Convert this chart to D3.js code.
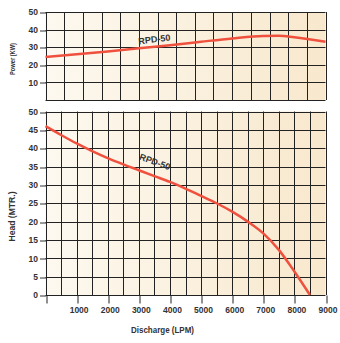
<!DOCTYPE html>
<html><head><meta charset="utf-8">
<script src="https://cdn.jsdelivr.net/npm/d3@7"></script>
<style>body{margin:0;background:#fff}svg{display:block}text{font-family:"Liberation Sans",Arial,sans-serif;fill:#333}</style>
</head><body><svg id="c" width="340" height="343"></svg>
<script>
const discharge = [0,1000,2000,3000,4000,5000,6000,7000,7500,8000,9000];
const power = [24.5,26,27.6,29.4,31.1,33.1,35.0,36.4,36.5,35.6,33.1];
const headQ = [0,500,1000,1500,2000,2500,3000,3500,4000,4500,5000,5500,6000,6500,7000,7500,8000,8500];
const head = [46,43.6,41.3,39.2,37.3,35.6,34,32.4,30.8,29,27,25,22.7,20,16.8,12.3,6.4,0];
const xTicks = [1000,2000,3000,4000,5000,6000,7000,8000,9000];
const powerTicks = [10,20,30,40,50];
const headTicks = [0,5,10,15,20,25,30,35,40,45,50];
const seriesName = "RPD-50";

const svg = d3.select("#c");
const defs = svg.append("defs");
const g = defs.append("linearGradient").attr("id","bg").attr("x1","0").attr("x2","1").attr("y1","0").attr("y2","0");
g.append("stop").attr("offset","0").attr("stop-color","#fdf9f0");
g.append("stop").attr("offset","1").attr("stop-color","#f8e8cd");

const L = 45.5, R = 325.5;
const x = d3.scaleLinear().domain([0,9000]).range([L,R]);
const yP = d3.scaleLinear().domain([0,50]).range([100,12]);
const yH = d3.scaleLinear().domain([0,50]).range([295,111.5]);
const red = "#f0503e", grid = "#222";

function panel(y, yticks, cols, labelEvery) {
  const top = y.range()[1], bot = y.range()[0];
  svg.append("rect").attr("x",L).attr("y",top).attr("width",R-L).attr("height",bot-top).attr("fill","url(#bg)");
  const colVals = d3.range(cols+1).map(i => i*9000/cols);
  svg.append("g").selectAll("line").data(colVals).join("line")
    .attr("x1",d=>Math.round(x(d))+0.5).attr("x2",d=>Math.round(x(d))+0.5)
    .attr("y1",top).attr("y2",bot).attr("stroke",grid).attr("stroke-width",1);
  const hv = d3.range(0,51,labelEvery);
  svg.append("g").selectAll("line").data(hv).join("line")
    .attr("x1",L).attr("x2",R).attr("y1",d=>Math.round(y(d))+0.5).attr("y2",d=>Math.round(y(d))+0.5)
    .attr("stroke",grid).attr("stroke-width",1);
  const ax = svg.append("g").attr("transform",`translate(${L+0.5},0)`)
    .call(d3.axisLeft(y).tickValues(yticks).tickSize(6).tickPadding(2).tickFormat(d3.format("d")));
  ax.select(".domain").remove();
  ax.selectAll(".tick line").attr("stroke","#333").attr("transform",d=>`translate(0,${Math.round(y(d))+0.5-y(d)})`);
  ax.selectAll("text").style("font-size","8.5px").style("font-weight","bold").attr("fill","#333");
}
panel(yP, powerTicks, 15, 10);
panel(yH, headTicks, 18, 5);

// bottom x axis
const xa = svg.append("g").attr("transform","translate(0,295.5)")
  .call(d3.axisBottom(x).tickValues([0].concat(xTicks)).tickSize(8).tickPadding(3).tickFormat(d=>d===0?"":d));
xa.select(".domain").remove();
xa.selectAll(".tick line").attr("stroke",grid).attr("transform",d=>`translate(${Math.round(x(d))+0.5-x(d)},0)`);
xa.selectAll("text").style("font-size","8.5px").style("font-weight","bold").attr("fill","#333").attr("dx","2");

// curves
const lineP = d3.line().x((d,i)=>x(discharge[i])).y(d=>yP(d)).curve(d3.curveMonotoneX);
svg.append("path").attr("d",lineP(power)).attr("fill","none").attr("stroke",red).attr("stroke-width",2.5);
const lineH = d3.line().x((d,i)=>x(headQ[i])).y(d=>yH(d)).curve(d3.curveMonotoneX);
svg.append("path").attr("d",lineH(head)).attr("fill","none").attr("stroke",red).attr("stroke-width",2.5);

// series labels
svg.append("text").attr("transform",`translate(${x(3000)},${yP(31.6)}) rotate(-7)`)
  .style("font-size","9px").style("font-weight","bold").text(seriesName);
svg.append("text").attr("transform",`translate(${x(3000)},${yH(37.0)}) rotate(20)`)
  .style("font-size","9px").style("font-weight","bold").text(seriesName);

// axis titles
svg.append("text").attr("transform","translate(15,59) rotate(-90)").attr("text-anchor","middle")
  .attr("textLength",32).attr("lengthAdjust","spacingAndGlyphs")
  .style("font-size","8px").style("font-weight","bold").text("Power (KW)");
svg.append("text").attr("transform","translate(15,216.5) rotate(-90)").attr("text-anchor","middle")
  .attr("textLength",50).attr("lengthAdjust","spacingAndGlyphs")
  .style("font-size","8.5px").style("font-weight","bold").text("Head (MTR.)");
svg.append("text").attr("x",162.5).attr("y",333).attr("text-anchor","middle")
  .attr("textLength",63).attr("lengthAdjust","spacingAndGlyphs")
  .style("font-size","8.5px").style("font-weight","bold").text("Discharge (LPM)");
</script></body></html>
